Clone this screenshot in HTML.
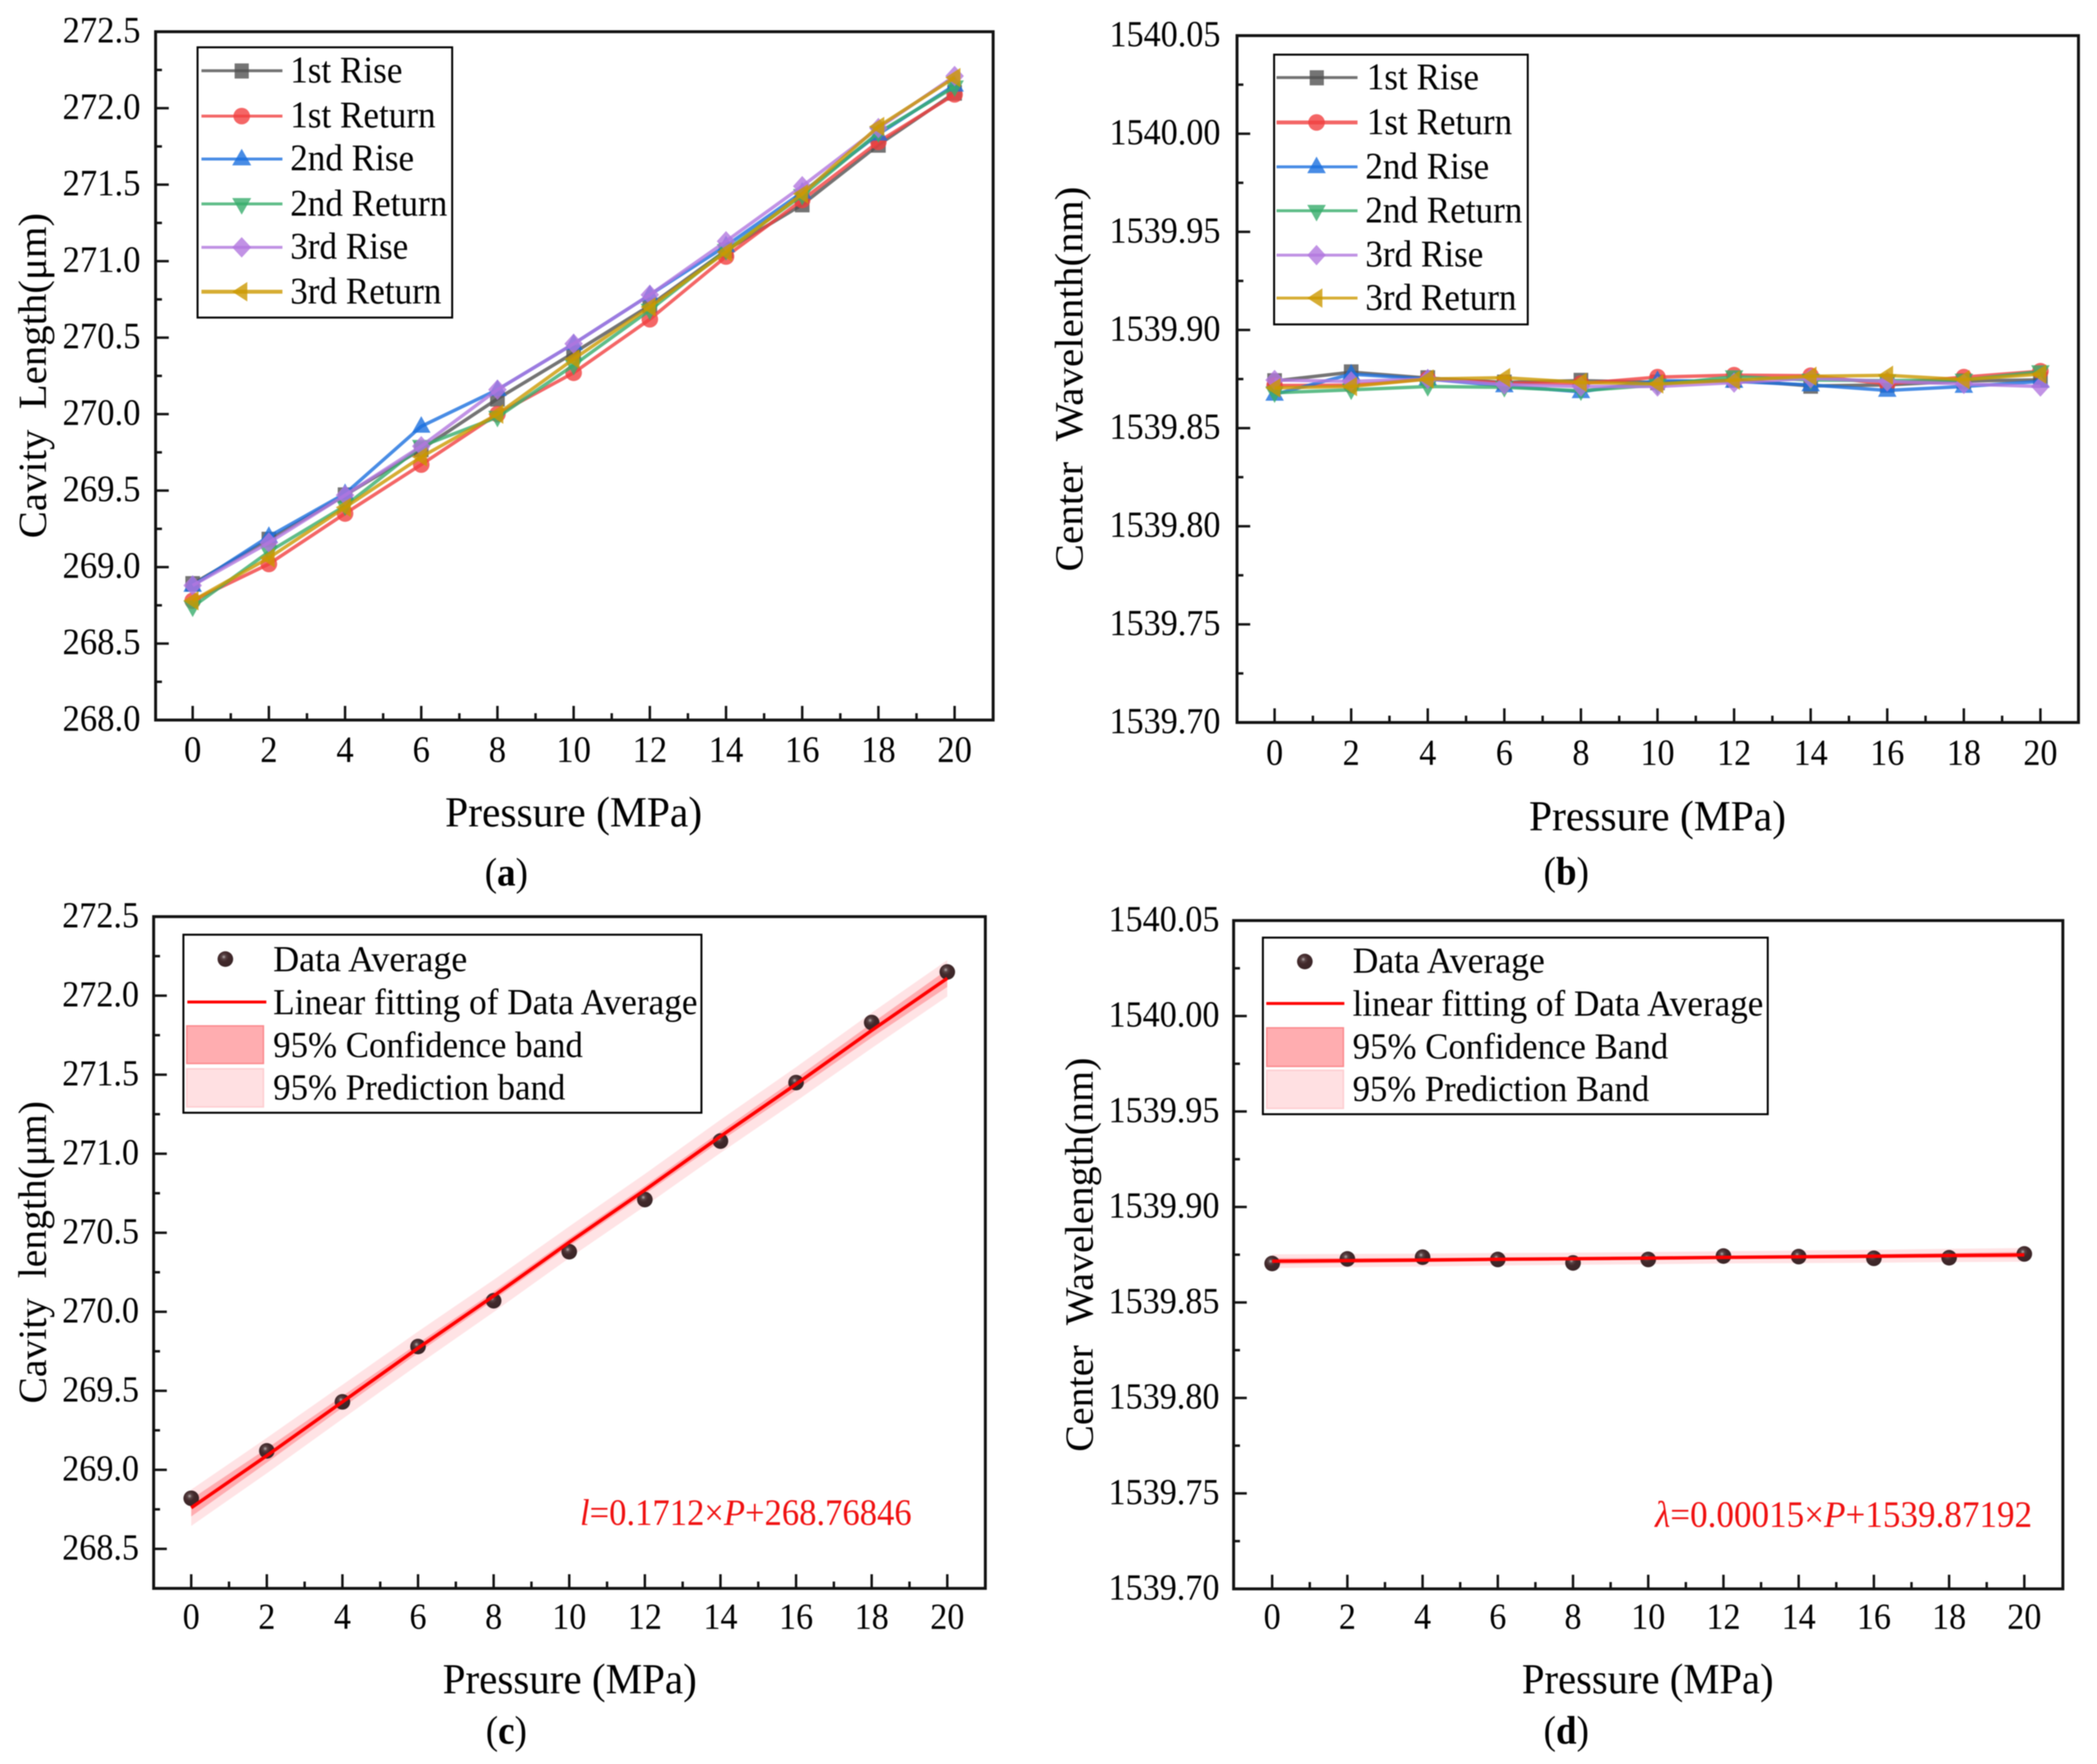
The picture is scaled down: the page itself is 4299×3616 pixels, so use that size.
<!DOCTYPE html>
<html lang="en">
<head>
<meta charset="utf-8">
<title>Cavity length and center wavelength vs pressure</title>
<style>
html,body{margin:0;padding:0;background:#fff;}
svg{display:block;filter:blur(1px);}
text{font-family:"Liberation Serif","DejaVu Serif",serif;fill:#000;}
</style>
</head>
<body>
<svg id="figure" xmlns="http://www.w3.org/2000/svg" width="4299" height="3616" viewBox="0 0 4299 3616">
  <rect x="0" y="0" width="4299" height="3616" fill="#fff"/>

  <g id="panel-a">
    <rect id="plot-a" x="319" y="65" width="1717" height="1411" fill="none" stroke="#111" stroke-width="6"/>
    <g id="marks-a"></g>
    <text x="94" y="770" font-size="82" text-anchor="middle" textLength="667" lengthAdjust="spacingAndGlyphs" transform="rotate(-90 94 770)">Cavity&#160;&#160;Length(μm)</text>
    <text x="1176" y="1694" font-size="82" text-anchor="middle" textLength="527" lengthAdjust="spacingAndGlyphs">Pressure (MPa)</text>
    <text x="1038" y="1815" font-size="76" text-anchor="middle">(<tspan font-weight="bold">a</tspan>)</text>
    <g>
      <rect x="405" y="97" width="522" height="554" fill="#fff" stroke="#000" stroke-width="4"/>
      <g opacity="1">
        <line x1="413" x2="579" y1="145" y2="145" stroke="#515151" stroke-width="6" opacity=".8"/>
        <rect x="481" y="130" width="29" height="31" fill="#515151" opacity=".8"/>
        <text x="595" y="169" font-size="72">1st Rise</text>
      </g>
      <g>
        <line x1="413" x2="579" y1="238" y2="238" stroke="#F14040" stroke-width="6" opacity=".8"/>
        <ellipse cx="495.5" cy="238" rx="17" ry="17" fill="#F14040" opacity=".8"/>
        <text x="595" y="261" font-size="72">1st Return</text>
      </g>
      <g>
        <line x1="413" x2="579" y1="326" y2="326" stroke="#1A6FDF" stroke-width="6" opacity=".8"/>
        <polygon points="495.5,305 515,339 476,339" fill="#1A6FDF" opacity=".8"/>
        <text x="595" y="349" font-size="72">2nd Rise</text>
      </g>
      <g>
        <line x1="413" x2="579" y1="418" y2="418" stroke="#37AD6B" stroke-width="6" opacity=".8"/>
        <polygon points="476,406 515,406 495.5,440" fill="#37AD6B" opacity=".8"/>
        <text x="595" y="442" font-size="72">2nd Return</text>
      </g>
      <g>
        <line x1="413" x2="579" y1="507" y2="507" stroke="#B177DE" stroke-width="6" opacity=".8"/>
        <polygon points="495.5,486 515,507 495.5,528 476,507" fill="#B177DE" opacity=".8"/>
        <text x="595" y="530" font-size="72">3rd Rise</text>
      </g>
      <g>
        <line x1="413" x2="579" y1="598" y2="598" stroke="#CC9900" stroke-width="8" opacity=".8"/>
        <polygon points="476,598 507,578 507,618" fill="#CC9900" opacity=".8"/>
        <text x="595" y="622" font-size="72">3rd Return</text>
      </g>
    </g>
  </g>

  <g id="panel-b">
    <rect id="plot-b" x="2536" y="73" width="1725" height="1408" fill="none" stroke="#111" stroke-width="6"/>
    <g id="marks-b"></g>
    <text x="2219" y="777" font-size="82" text-anchor="middle" textLength="789" lengthAdjust="spacingAndGlyphs" transform="rotate(-90 2219 777)">Center&#160;&#160;Wavelenth(nm)</text>
    <text x="3398" y="1702" font-size="82" text-anchor="middle" textLength="527" lengthAdjust="spacingAndGlyphs">Pressure (MPa)</text>
    <text x="3211" y="1813" font-size="76" text-anchor="middle">(<tspan font-weight="bold">b</tspan>)</text>
    <g>
      <rect x="2612" y="112" width="520" height="553" fill="#fff" stroke="#000" stroke-width="4"/>
      <g>
        <line x1="2617" x2="2783" y1="159" y2="159" stroke="#515151" stroke-width="6" opacity=".8"/>
        <rect x="2685" y="144" width="29" height="31" fill="#515151" opacity=".8"/>
        <text x="2802" y="183" font-size="72">1st Rise</text>
      </g>
      <g>
        <line x1="2617" x2="2783" y1="251" y2="251" stroke="#F14040" stroke-width="8" opacity=".8"/>
        <ellipse cx="2699" cy="251" rx="17" ry="17" fill="#F14040" opacity=".8"/>
        <text x="2802" y="275" font-size="72">1st Return</text>
      </g>
      <g>
        <line x1="2617" x2="2783" y1="342" y2="342" stroke="#1A6FDF" stroke-width="6" opacity=".8"/>
        <polygon points="2699,321 2718,355 2680,355" fill="#1A6FDF" opacity=".8"/>
        <text x="2799" y="366" font-size="72">2nd Rise</text>
      </g>
      <g>
        <line x1="2617" x2="2783" y1="432" y2="432" stroke="#37AD6B" stroke-width="6" opacity=".8"/>
        <polygon points="2680,420 2718,420 2699,454" fill="#37AD6B" opacity=".8"/>
        <text x="2799" y="456" font-size="72">2nd Return</text>
      </g>
      <g>
        <line x1="2617" x2="2783" y1="523" y2="523" stroke="#B177DE" stroke-width="6" opacity=".8"/>
        <polygon points="2699,502 2718,523 2699,544 2680,523" fill="#B177DE" opacity=".8"/>
        <text x="2799" y="546" font-size="72">3rd Rise</text>
      </g>
      <g>
        <line x1="2617" x2="2783" y1="611" y2="611" stroke="#CC9900" stroke-width="6" opacity=".8"/>
        <polygon points="2680,611 2711,591 2711,631" fill="#CC9900" opacity=".8"/>
        <text x="2799" y="635" font-size="72">3rd Return</text>
      </g>
    </g>
  </g>

  <g id="panel-c">
    <rect id="plot-c" x="315" y="1879" width="1705" height="1377" fill="none" stroke="#111" stroke-width="6"/>
    <g id="marks-c"></g>
    <text x="94" y="2567" font-size="82" text-anchor="middle" textLength="620" lengthAdjust="spacingAndGlyphs" transform="rotate(-90 94 2567)">Cavity&#160;&#160;length(μm)</text>
    <text x="1168" y="3471" font-size="82" text-anchor="middle" textLength="521" lengthAdjust="spacingAndGlyphs">Pressure (MPa)</text>
    <text x="1038" y="3574" font-size="76" text-anchor="middle">(<tspan font-weight="bold">c</tspan>)</text>
    <text x="1189" y="3126" font-size="71" style="fill:#f01010" textLength="680"><tspan font-style="italic" style="fill:#f01010">l</tspan>=0.1712×<tspan font-style="italic" style="fill:#f01010">P</tspan>+268.76846</text>
    <g>
      <rect x="376" y="1916" width="1062" height="365" fill="#fff" stroke="#000" stroke-width="4"/>
      <g>
        <circle cx="462" cy="1966" r="16" fill="url(#sphere)"/>
        <text x="560" y="1991" font-size="70" textLength="398">Data Average</text>
      </g>
      <g>
        <line x1="384" x2="546" y1="2054" y2="2054" stroke="#f00" stroke-width="6"/>
        <text x="560" y="2079" font-size="70" textLength="870">Linear fitting of Data Average</text>
      </g>
      <g>
        <rect x="383" y="2103" width="157" height="77" fill="#ffadb0" stroke="#fb8a8e" stroke-width="3"/>
        <text x="560" y="2167" font-size="70" textLength="635">95% Confidence band</text>
      </g>
      <g>
        <rect x="383" y="2191" width="157" height="78" fill="#ffe0e2" stroke="#fdcdd0" stroke-width="3"/>
        <text x="560" y="2254" font-size="70" textLength="599">95% Prediction band</text>
      </g>
    </g>
  </g>

  <g id="panel-d">
    <rect id="plot-d" x="2529" y="1887" width="1700" height="1370" fill="none" stroke="#111" stroke-width="6"/>
    <g id="marks-d"></g>
    <text x="2240" y="2572" font-size="82" text-anchor="middle" textLength="808" lengthAdjust="spacingAndGlyphs" transform="rotate(-90 2240 2572)">Center&#160;&#160;Wavelength(nm)</text>
    <text x="3378" y="3471" font-size="82" text-anchor="middle" textLength="516" lengthAdjust="spacingAndGlyphs">Pressure (MPa)</text>
    <text x="3211" y="3574" font-size="76" text-anchor="middle">(<tspan font-weight="bold">d</tspan>)</text>
    <text x="3393" y="3130" font-size="71" style="fill:#f01010" textLength="773"><tspan font-style="italic" style="fill:#f01010">λ</tspan>=0.00015×<tspan font-style="italic" style="fill:#f01010">P</tspan>+1539.87192</text>
    <g>
      <rect x="2589" y="1922" width="1035" height="362" fill="#fff" stroke="#000" stroke-width="4"/>
      <g>
        <circle cx="2675" cy="1971" r="16" fill="url(#sphere)"/>
        <text x="2773" y="1994" font-size="70" textLength="394">Data Average</text>
      </g>
      <g>
        <line x1="2596" x2="2756" y1="2057" y2="2057" stroke="#f00" stroke-width="6"/>
        <text x="2773" y="2082" font-size="70" textLength="842">linear fitting of Data Average</text>
      </g>
      <g>
        <rect x="2597" y="2107" width="157" height="79" fill="#ffadb0" stroke="#fb8a8e" stroke-width="3"/>
        <text x="2773" y="2170" font-size="70" textLength="647">95% Confidence Band</text>
      </g>
      <g>
        <rect x="2597" y="2194" width="157" height="78" fill="#ffe0e2" stroke="#fdcdd0" stroke-width="3"/>
        <text x="2773" y="2257" font-size="70" textLength="608">95% Prediction Band</text>
      </g>
    </g>
  </g>

  <defs>
    <radialGradient id="sphere" cx="0.4" cy="0.36" r="0.62">
      <stop offset="0" stop-color="#b8b0b0"/>
      <stop offset="0.22" stop-color="#5a4446"/>
      <stop offset="0.5" stop-color="#42292b"/>
      <stop offset="1" stop-color="#3a2527"/>
    </radialGradient>
  </defs>
</svg>

<script>
// ---- shared categories and tick labels ----
const pressures = [0, 2, 4, 6, 8, 10, 12, 14, 16, 18, 20];
const xMinorTicks = [1, 3, 5, 7, 9, 11, 13, 15, 17, 19];
const lengthTickLabels = ["272.5", "272.0", "271.5", "271.0", "270.5", "270.0", "269.5", "269.0", "268.5", "268.0"];
const lengthTickLabelsC = ["272.5", "272.0", "271.5", "271.0", "270.5", "270.0", "269.5", "269.0", "268.5"];
const wavelengthTickLabels = ["1540.05", "1540.00", "1539.95", "1539.90", "1539.85", "1539.80", "1539.75", "1539.70"];

// ---- panel (a) cavity length, six runs ----
const lenRise1   = [268.89, 269.18, 269.47, 269.77, 270.10, 270.40, 270.71, 271.07, 271.37, 271.76, 272.10];
const lenReturn1 = [268.78, 269.02, 269.35, 269.67, 270.00, 270.27, 270.62, 271.03, 271.40, 271.78, 272.09];
const lenRise2   = [268.88, 269.20, 269.48, 269.92, 270.16, 270.46, 270.78, 271.10, 271.45, 271.83, 272.15];
const lenReturn2 = [268.74, 269.10, 269.40, 269.79, 269.98, 270.32, 270.68, 271.07, 271.43, 271.84, 272.14];
const lenRise3   = [268.88, 269.16, 269.47, 269.79, 270.16, 270.46, 270.78, 271.13, 271.49, 271.87, 272.21];
const lenReturn3 = [268.78, 269.06, 269.39, 269.72, 270.00, 270.36, 270.70, 271.06, 271.44, 271.88, 272.20];

// ---- panel (b) center wavelength, six runs ----
const wavRise1   = [1539.8740, 1539.8785, 1539.8755, 1539.8733, 1539.8742, 1539.8733, 1539.8745, 1539.8715, 1539.8720, 1539.8740, 1539.8746];
const wavReturn1 = [1539.8717, 1539.8719, 1539.8750, 1539.8730, 1539.8727, 1539.8760, 1539.8770, 1539.8767, 1539.8725, 1539.8760, 1539.8790];
const wavRise2   = [1539.8672, 1539.8775, 1539.8750, 1539.8715, 1539.8685, 1539.8742, 1539.8738, 1539.8720, 1539.8692, 1539.8712, 1539.8738];
const wavReturn2 = [1539.8680, 1539.8695, 1539.8712, 1539.8708, 1539.8690, 1539.8720, 1539.8762, 1539.8745, 1539.8742, 1539.8745, 1539.8788];
const wavRise3   = [1539.8745, 1539.8738, 1539.8750, 1539.8722, 1539.8712, 1539.8712, 1539.8732, 1539.8754, 1539.8738, 1539.8725, 1539.8712];
const wavReturn3 = [1539.8705, 1539.8712, 1539.8750, 1539.8757, 1539.8733, 1539.8725, 1539.8744, 1539.8764, 1539.8769, 1539.8747, 1539.8775];

// ---- panel (c) averages, fit and band half-widths ----
const avgLength      = [268.82, 269.12, 269.43, 269.78, 270.07, 270.38, 270.71, 271.08, 271.45, 271.83, 272.15];
const fitLength      = [268.76, 269.09, 269.43, 269.77, 270.10, 270.44, 270.77, 271.11, 271.44, 271.78, 272.11];
const confLengthHalf = [0.055, 0.045, 0.037, 0.030, 0.026, 0.025, 0.026, 0.030, 0.037, 0.045, 0.055];
const predLengthHalf = [0.115, 0.112, 0.108, 0.105, 0.102, 0.100, 0.102, 0.105, 0.108, 0.112, 0.115];

// ---- panel (d) averages, fit and band half-widths ----
const avgWave      = [1539.8704, 1539.8728, 1539.8737, 1539.8725, 1539.8707, 1539.8725, 1539.8743, 1539.8740, 1539.8731, 1539.8734, 1539.8754];
const fitWave      = [1539.8716, 1539.8719, 1539.8722, 1539.8726, 1539.8729, 1539.8732, 1539.8736, 1539.8739, 1539.8742, 1539.8746, 1539.8749];
const confWaveHalf = [0.0016, 0.0013, 0.0011, 0.0009, 0.0008, 0.0007, 0.0008, 0.0009, 0.0011, 0.0013, 0.0016];
const predWaveHalf = [0.0036, 0.0035, 0.0034, 0.0033, 0.0032, 0.0032, 0.0032, 0.0033, 0.0034, 0.0035, 0.0036];

// ---- layout (not data) ----
const NS = "http://www.w3.org/2000/svg";
const geomA = {left:319, right:2036, top:65, bottom:1476, xAt0:395, xAt20:1957, vTop:272.5, vBottom:268.0, step:0.5, labelRight:288, xLabelBase:1562, size:71};
const geomB = {left:2536, right:4261, top:73, bottom:1481, xAt0:2613, xAt20:4183, vTop:1540.05, vBottom:1539.70, step:0.05, labelRight:2502, xLabelBase:1568, size:70};
const geomC = {left:315, right:2020, top:1879, bottom:3256, xAt0:392, xAt20:1942, vTop:272.5, vBottom:268.25, step:0.5, labelRight:285, xLabelBase:3339, size:70};
const geomD = {left:2529, right:4229, top:1887, bottom:3257, xAt0:2608, xAt20:4150, vTop:1540.05, vBottom:1539.70, step:0.05, labelRight:2500, xLabelBase:3339, size:70};

// ---- axis functions ----
function xAxis(g, v) { return g.xAt0 + (v - pressures[0]) / (pressures[pressures.length - 1] - pressures[0]) * (g.xAt20 - g.xAt0); }
function yAxis(g, v) { return g.top + (g.vTop - v) / (g.vTop - g.vBottom) * (g.bottom - g.top); }

function node(parent, tag, attrs, txt) {
  const el = document.createElementNS(NS, tag);
  for (const k in attrs) el.setAttribute(k, attrs[k]);
  if (txt !== undefined) el.textContent = txt;
  parent.appendChild(el);
  return el;
}

function drawAxes(root, g, yLabels) {
  const tickStyle = {stroke:"#111", "stroke-width":5};
  pressures.forEach(function (p) {
    const x = xAxis(g, p);
    const t = node(root, "line", Object.assign({x1:x, x2:x, y1:g.bottom, y2:g.bottom - 29}, tickStyle));
    
    
    const l = node(root, "text", {x:x, y:g.xLabelBase, "font-size":g.size, "text-anchor":"middle"}, String(p));
    
    
  });
  xMinorTicks.forEach(function (p) {
    const x = xAxis(g, p);
    const t = node(root, "line", Object.assign({x1:x, x2:x, y1:g.bottom, y2:g.bottom - 14}, tickStyle));
    
    
  });
  yLabels.forEach(function (label) {
    const v = parseFloat(label);
    const y = yAxis(g, v);
    const t = node(root, "line", Object.assign({x1:g.left, x2:g.left + 27, y1:y, y2:y}, tickStyle));
    
    
    const l = node(root, "text", {x:g.labelRight, y:y + 22, "font-size":g.size, "text-anchor":"end"}, label);
    
    
    const mv = v + g.step / 2;
    if (mv < g.vTop) {
      const my = yAxis(g, mv);
      const m = node(root, "line", Object.assign({x1:g.left, x2:g.left + 13, y1:my, y2:my}, tickStyle));
      
      
    }
  });
}

function drawMarker(root, shape, x, y, color) {
  const o = {fill:color, opacity:0.8};
  let m;
  if (shape === "square") m = node(root, "rect", Object.assign({x:x - 15, y:y - 16, width:30, height:32}, o));
  if (shape === "circle") m = node(root, "circle", Object.assign({cx:x, cy:y, r:17}, o));
  if (shape === "up") m = node(root, "polygon", Object.assign({points:[x, y - 21, x + 19, y + 13, x - 19, y + 13].join(" ")}, o));
  if (shape === "down") m = node(root, "polygon", Object.assign({points:[x - 19, y - 13, x + 19, y - 13, x, y + 21].join(" ")}, o));
  if (shape === "diamond") m = node(root, "polygon", Object.assign({points:[x, y - 21, x + 19, y, x, y + 21, x - 19, y].join(" ")}, o));
  if (shape === "left") m = node(root, "polygon", Object.assign({points:[x - 19, y, x + 12, y - 20, x + 12, y + 20].join(" ")}, o));
  
  
}

function drawRun(root, g, values, color, shape, width) {
  const pts = values.map(function (v, i) { return xAxis(g, pressures[i]) + "," + yAxis(g, v); }).join(" ");
  const line = node(root, "polyline", {points:pts, fill:"none", stroke:color, "stroke-width":width, opacity:0.8, "stroke-linejoin":"round"});
  
  
  values.forEach(function (v, i) { drawMarker(root, shape, xAxis(g, pressures[i]), yAxis(g, v), color); });
}

function drawBand(root, g, centre, half, fill) {
  const upper = centre.map(function (v, i) { return xAxis(g, pressures[i]) + "," + yAxis(g, v + half[i]); });
  const lower = centre.map(function (v, i) { return xAxis(g, pressures[i]) + "," + yAxis(g, v - half[i]); }).reverse();
  const band = node(root, "polygon", {points:upper.concat(lower).join(" "), fill:fill});
  
  
}

function drawFitPanel(root, g, avg, fit, conf, pred) {
  drawBand(root, g, fit, pred, "rgba(255,60,70,0.14)");
  drawBand(root, g, fit, conf, "rgba(255,30,40,0.28)");
  avg.forEach(function (v, i) {
    const c = node(root, "circle", {cx:xAxis(g, pressures[i]), cy:yAxis(g, v), r:16, fill:"url(#sphere)"});
    
    
  });
  const pts = fit.map(function (v, i) { return xAxis(g, pressures[i]) + "," + yAxis(g, v); }).join(" ");
  const line = node(root, "polyline", {points:pts, fill:"none", stroke:"#f00", "stroke-width":7});
  
  
}

function drawRuns(root, g, runs) {
  drawRun(root, g, runs[0], "#515151", "square", 7);
  drawRun(root, g, runs[1], "#F14040", "circle", 7);
  drawRun(root, g, runs[2], "#1A6FDF", "up", 7);
  drawRun(root, g, runs[3], "#37AD6B", "down", 7);
  drawRun(root, g, runs[4], "#B177DE", "diamond", 7);
  drawRun(root, g, runs[5], "#CC9900", "left", 7);
}

const marksA = document.getElementById("marks-a");
const marksB = document.getElementById("marks-b");
const marksC = document.getElementById("marks-c");
const marksD = document.getElementById("marks-d");

drawAxes(marksA, geomA, lengthTickLabels);
drawRuns(marksA, geomA, [lenRise1, lenReturn1, lenRise2, lenReturn2, lenRise3, lenReturn3]);

drawAxes(marksB, geomB, wavelengthTickLabels);
drawRuns(marksB, geomB, [wavRise1, wavReturn1, wavRise2, wavReturn2, wavRise3, wavReturn3]);

drawAxes(marksC, geomC, lengthTickLabelsC);
drawFitPanel(marksC, geomC, avgLength, fitLength, confLengthHalf, predLengthHalf);

drawAxes(marksD, geomD, wavelengthTickLabels);
drawFitPanel(marksD, geomD, avgWave, fitWave, confWaveHalf, predWaveHalf);

// The reference glyphs are stretched vertically: enlarge upright text while keeping its measured width.
document.querySelectorAll("#figure text").forEach(function (t) {
  if (t.hasAttribute("transform")) return;
  if (!t.hasAttribute("textLength")) t.setAttribute("textLength", t.getComputedTextLength());
  t.setAttribute("lengthAdjust", "spacingAndGlyphs");
  t.setAttribute("font-size", parseFloat(t.getAttribute("font-size")) * 1.07);
});
</script>
</body>
</html>
